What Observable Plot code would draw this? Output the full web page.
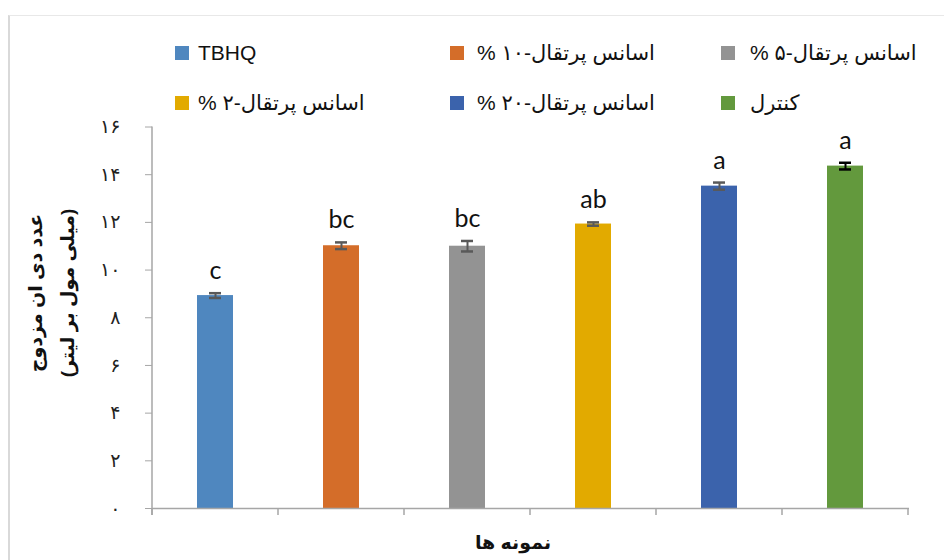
<!DOCTYPE html>
<html>
<head>
<meta charset="utf-8">
<script src="https://cdn.jsdelivr.net/npm/d3@7"></script>
<script src="https://cdn.jsdelivr.net/npm/@observablehq/plot@0.6"></script>
<style>
  body { margin: 0; background: #fff; }
  #wrap { position: relative; width: 944px; height: 560px; overflow: hidden;
          font-family: "Liberation Sans", Arial, "DejaVu Sans", sans-serif; color: #111; }
  #border { position: absolute; left: 8px; top: 15px; width: 940px; height: 560px;
            border-left: 2px solid #d9d9d9; border-top: 1px solid #e8e8e8; }
  #legend { position: relative; height: 110px; }
  .sw { position: absolute; width: 14px; height: 14px; }
  .lbl { position: absolute; font-size: 21px; line-height: 24px; white-space: nowrap; }
  .ytitle { position: absolute; font-weight: bold; font-size: 19px; white-space: nowrap;
            transform: translate(-50%, -50%) rotate(-90deg); direction: rtl; }
  #xtitle { position: absolute; left: 513px; top: 542px; transform: translate(-50%, -50%);
            font-weight: bold; font-size: 19px; direction: rtl; white-space: nowrap; }
  #chart { position: absolute; left: 0; top: 110px; }
</style>
</head>
<body>
<div id="wrap">
  <div id="border"></div>
  <div id="legend"></div>
  <div id="chart"></div>
  <div class="ytitle" style="left:35px; top:293px;">عدد دی ان مزدوج</div>
  <div class="ytitle" style="left:67px; top:293px;">(میلی مول بر لیتر)</div>
  <div id="xtitle">نمونه ها</div>
</div>
<script>
// Conjugated diene value (mmol/L) per sample, with error bars and Duncan groups
const samples = ["TBHQ", "اسانس پرتقال-۱۰ %", "اسانس پرتقال-۵ %", "اسانس پرتقال-۲ %", "اسانس پرتقال-۲۰ %", "کنترل"];
const dieneValues = [8.93, 11.02, 11.0, 11.93, 13.52, 14.36];
const errorValues = [0.1, 0.14, 0.22, 0.07, 0.15, 0.14];
const groupLetters = ["c", "bc", "bc", "ab", "a", "a"];
const yTicks = [0, 2, 4, 6, 8, 10, 12, 14, 16];
const yTickLabels = ["۰", "۲", "۴", "۶", "۸", "۱۰", "۱۲", "۱۴", "۱۶"];

// palette and layout
const barColors = ["#4f87bf", "#d46d29", "#939393", "#e2aa00", "#3b63ac", "#63993d"];
const errColors = ["#595959", "#595959", "#595959", "#595959", "#595959", "#000000"];
const legendCols = [175, 450, 721];
const legendTextCols = [198, 477, 750];
const legendRows = [53, 103];

const rows = samples.map((s, i) => ({
  sample: s, value: dieneValues[i], err: errorValues[i], letter: groupLetters[i], errColor: errColors[i]
}));

// legend (row-major, three columns)
const legend = document.getElementById("legend");
samples.forEach((s, i) => {
  const c = i % 3, r = Math.floor(i / 3);
  const sw = document.createElement("div");
  sw.className = "sw";
  sw.style.left = legendCols[c] + "px";
  sw.style.top = (legendRows[r] - 7) + "px";
  sw.style.background = barColors[i];
  legend.appendChild(sw);
  const t = document.createElement("div");
  t.className = "lbl";
  t.dir = /[\u0600-\u06FF]/.test(s) ? "rtl" : "ltr";
  t.textContent = s;
  t.style.left = legendTextCols[c] + "px";
  t.style.top = (legendRows[r] - 12) + "px";
  legend.appendChild(t);
});

const chart = Plot.plot({
  width: 944,
  height: 450,
  marginTop: 16.5,
  marginBottom: 52,
  marginLeft: 152,
  marginRight: 35,
  style: { fontFamily: "\"Liberation Sans\", Arial, \"DejaVu Sans\", sans-serif", background: "transparent" },
  x: { type: "band", domain: samples, paddingInner: 0.714, paddingOuter: 0.357, axis: null },
  y: { domain: [0, 16], axis: null },
  color: { domain: samples, range: barColors },
  marks: [
    Plot.axisY(yTicks, {
      label: null, tickSize: 7, tickPadding: 25, stroke: "#a6a6a6", fill: "#222", fontSize: 19,
      tickFormat: d => yTickLabels[yTicks.indexOf(d)]
    }),
    Plot.barY(rows, { x: "sample", y: "value", fill: "sample" }),
    Plot.ruleY([0], { stroke: "#a6a6a6", strokeWidth: 1.5 }),
    Plot.ruleX(rows, { x: "sample", y1: d => d.value - d.err, y2: d => d.value + d.err, stroke: "errColor", strokeWidth: 2 }),
    Plot.tickY(rows, { x: "sample", y: d => d.value + d.err, stroke: "errColor", strokeWidth: 2.5, insetLeft: 12, insetRight: 12 }),
    Plot.tickY(rows, { x: "sample", y: d => d.value - d.err, stroke: "errColor", strokeWidth: 2.5, insetLeft: 12, insetRight: 12 }),
    Plot.text(rows, {
      x: "sample", y: d => d.value + d.err, text: "letter", dy: -22,
      fontSize: 25, fontFamily: "Lato, \"Open Sans\", sans-serif", fill: "#111"
    })
  ]
});
document.getElementById("chart").appendChild(chart);

// axis lines: left y-axis line and category boundary ticks on the x axis
const sx = chart.scale("x"), sy = chart.scale("y");
const svg = d3.select(chart);
const [y0, y1] = [sy.apply(0), sy.apply(16)];
svg.append("line")
  .attr("x1", sx.range[0]).attr("x2", sx.range[0])
  .attr("y1", y0 + 7).attr("y2", y1)
  .attr("stroke", "#a6a6a6").attr("stroke-width", 1.5);
for (let k = 0; k <= samples.length; k++) {
  const x = sx.range[0] + k * sx.step;
  svg.append("line")
    .attr("x1", x).attr("x2", x)
    .attr("y1", y0).attr("y2", y0 + 7)
    .attr("stroke", "#a6a6a6").attr("stroke-width", 1.5);
}
</script>
</body>
</html>
